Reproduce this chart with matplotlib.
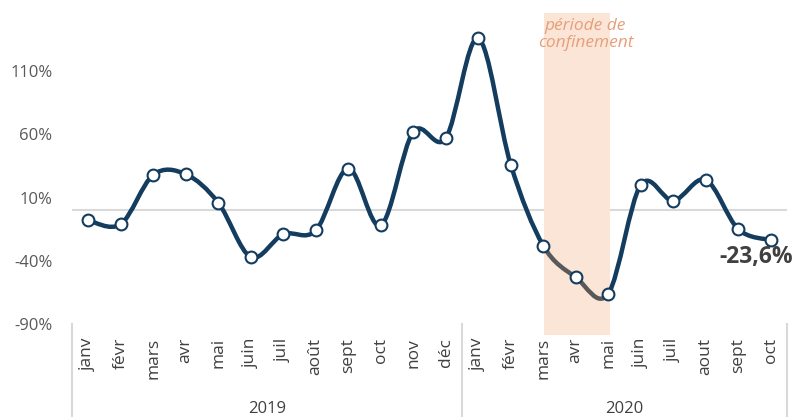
import matplotlib.pyplot as plt
from matplotlib.path import Path
from matplotlib.patches import PathPatch

plt.rcParams['font.family'] = ['Open Sans', 'DejaVu Sans']

# données
mois_2019 = ['janv', 'févr', 'mars', 'avr', 'mai', 'juin', 'juil', 'août',
             'sept', 'oct', 'nov', 'déc']
mois_2020 = ['janv', 'févr', 'mars', 'avr', 'mai', 'juin', 'juil', 'aout',
             'sept', 'oct']
annees = ['2019', '2020']
variation = [-8, -11, 28, 28.5, 6, -37, -19, -16, 33, -12, 62, 57,
             136, 36, -28, -53, -66, 20, 7.6, 24, -15, -23.6]
confinement = (14, 16)   # mars -> mai 2020
dernier_label = '-23,6%'

mois = mois_2019 + mois_2020
x = list(range(len(mois)))

bleu = '#133C5F'
gris = '#595959'


def courbe_lisse(xs, ys, debut, fin):
    # chemin de Bézier type lissage Excel entre les points debut..fin
    n = len(xs)
    verts = [(xs[debut], ys[debut])]
    codes = [Path.MOVETO]
    for i in range(debut, fin):
        a = max(i - 1, 0)
        b = min(i + 2, n - 1)
        c1 = (xs[i] + (xs[i + 1] - xs[a]) / 6, ys[i] + (ys[i + 1] - ys[a]) / 6)
        c2 = (xs[i + 1] - (xs[b] - xs[i]) / 6, ys[i + 1] - (ys[b] - ys[i]) / 6)
        verts += [c1, c2, (xs[i + 1], ys[i + 1])]
        codes += [Path.CURVE4] * 3
    return Path(verts, codes)


fig = plt.figure(figsize=(7.94, 4.17), dpi=100)
ax = fig.add_axes([72 / 794, 93 / 417, 715 / 794, 316 / 417])

ax.set_xlim(-0.5, len(mois) - 0.5)
ax.set_ylim(-90, 160)

# zone de confinement
ax.axvspan(confinement[0] + 0.03, confinement[1] + 0.06, ymin=-0.036, ymax=0.984,
           color='#FBE5D6', zorder=1, clip_on=False, lw=0)
ax.text((confinement[0] + confinement[1]) / 2 + 0.3, 152, 'période de\nconfinement',
        ha='center', va='top', fontsize=12.5, style='italic', color='#E69F7A',
        linespacing=1.1)

ax.axhline(0, color='#D9D9D9', lw=1.5, zorder=0.5)

# courbe
for d, f, c in [(0, confinement[0], bleu), (confinement[1], len(x) - 1, bleu),
                (confinement[0], confinement[1], gris)]:
    ax.add_patch(PathPatch(courbe_lisse(x, variation, d, f), fill=False,
                           edgecolor=c, lw=3.2, capstyle='round', zorder=3))
ax.plot(x, variation, ls='none', marker='o', ms=8.5, mfc='white', mec=bleu,
        mew=1.5, zorder=4)

ax.annotate(dernier_label, (x[-1], variation[-1]), xytext=(16, -12),
            textcoords='offset points', ha='right', va='center',
            fontsize=16.5, fontweight='bold', color='#404040', zorder=5)

# axes
ax.set_yticks([-90, -40, 10, 60, 110])
ax.set_yticklabels(['-90%', '-40%', '10%', '60%', '110%'])
ax.tick_params(axis='y', length=0, labelsize=12, labelcolor='#595959', pad=14)
ax.set_xticks(x)
ax.set_xticklabels(mois, rotation=90)
ax.tick_params(axis='x', length=0, labelsize=12.5, labelcolor='#404040', pad=10)
for s in ax.spines.values():
    s.set_visible(False)

# séparateurs et années
for xs in [-0.5, len(mois_2019) - 0.5, len(mois) - 0.5]:
    ax.plot([xs, xs], [0, -0.3], transform=ax.get_xaxis_transform(),
            color='#D9D9D9', lw=1.5, clip_on=False)
centres = [(len(mois_2019) - 1) / 2, len(mois_2019) + (len(mois_2020) - 1) / 2]
for c, a in zip(centres, annees):
    ax.text(c, -0.27, a, transform=ax.get_xaxis_transform(), ha='center',
            va='center', fontsize=12, color='#404040')

fig.savefig('out.png', dpi=100)
